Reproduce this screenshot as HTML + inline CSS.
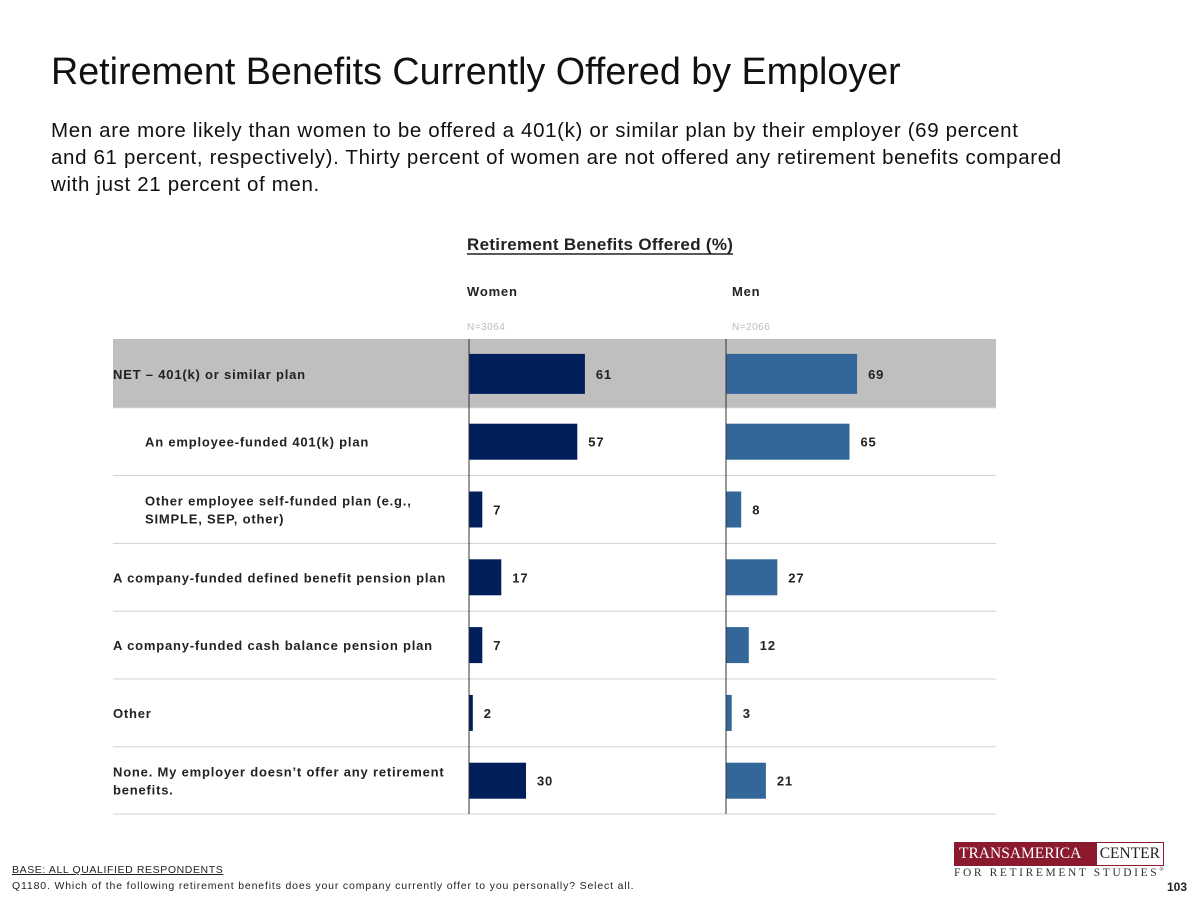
<!DOCTYPE html>
<html><head><meta charset="utf-8">
<style>
body{margin:0;width:1200px;height:900px;background:#fff;position:relative;overflow:hidden;font-family:"Liberation Sans",sans-serif;}
.abs{position:absolute;}
</style></head><body>
<div class="abs" style="left:51px;top:50px;font-size:37.7px;color:#111;">Retirement Benefits Currently Offered by Employer</div>
<div class="abs" style="left:51px;top:117px;width:1100px;font-size:20.5px;letter-spacing:0.65px;line-height:27px;color:#111;white-space:nowrap;">Men are more likely than women to be offered a 401(k) or similar plan by their employer (69 percent<br>and 61 percent, respectively). Thirty percent of women are not offered any retirement benefits compared<br>with just 21 percent of men.</div>
<svg class="abs" style="left:0;top:0" width="1200" height="900">
<g id="g"></g>
</svg>
<div class="abs" style="left:12px;top:864px;font-size:10.5px;letter-spacing:0.6px;color:#222;text-decoration:underline;">BASE: ALL QUALIFIED RESPONDENTS</div>
<div class="abs" style="left:12px;top:880px;font-size:10.5px;letter-spacing:0.84px;color:#222;">Q1180. Which of the following retirement benefits does your company currently offer to you personally? Select all.</div>
<div class="abs" style="left:954px;top:842px;width:208px;height:22px;border:1px solid #8b1a2f;background:#8b1a2f;font-family:'Liberation Serif',serif;font-size:15.5px;line-height:22px;">
<span style="color:#fff;padding-left:4px;">TRANSAMERICA</span><span style="position:absolute;right:0;top:0;height:22px;background:#fff;color:#222;padding:0 3px;line-height:22px;">CENTER</span></div>
<div class="abs" style="left:954px;top:867px;font-family:'Liberation Serif',serif;font-size:11.5px;letter-spacing:2.6px;color:#333;">FOR RETIREMENT STUDIES<sup style="font-size:6px">®</sup></div>
<div class="abs" style="left:1167px;top:880px;font-size:12px;font-weight:bold;color:#222;">103</div>
<script>
const categories=["NET – 401(k) or similar plan","An employee-funded 401(k) plan","Other employee self-funded plan (e.g.,|SIMPLE, SEP, other)","A company-funded defined benefit pension plan","A company-funded cash balance pension plan","Other","None. My employer doesn’t offer any retirement|benefits."];
const indent=[0,1,1,0,0,0,0];
const women=[61,57,7,17,7,2,30];
const men=[69,65,8,27,12,3,21];
const g=document.getElementById('g');
const NS="http://www.w3.org/2000/svg";
function mk(t,a,txt){const e=document.createElementNS(NS,t);for(const k in a)e.setAttribute(k,a[k]);if(txt!=null)e.textContent=txt;g.appendChild(e);return e;}
const top0=340,rowH=67.8,scale=1.9,wx=469,mx=726;
const F='"Liberation Sans",sans-serif';
function rowY(i){return top0+i*rowH;}
let r=mk('rect',{x:113,y:339,width:883,height:69,fill:'#bfbfbf'});

let t=mk('text',{x:467,y:250,'font-size':17,'font-weight':'bold',fill:'#222','font-family':F,'letter-spacing':0.3},'Retirement Benefits Offered (%)');

let u=mk('line',{x1:467,x2:733,y1:254,y2:254,stroke:'#222','stroke-width':1.5});

[["Women",wx-2,"N=3064"],["Men",mx+6,"N=2066"]].forEach(([n,x,nn])=>{
 let a=mk('text',{x:x,y:296,'font-size':13,'font-weight':'bold',fill:'#222','font-family':F,'letter-spacing':0.8},n);
 
 let b=mk('text',{x:x,y:330,'font-size':10,fill:'#bbb','font-family':F,'letter-spacing':0.5},nn);
 
});
categories.forEach((c,i)=>{
 const y0=rowY(i),cy=y0+rowH/2;
 if(i>0){let l=mk('line',{x1:113,x2:996,y1:y0,y2:y0,stroke:'#d0d0d0'});}
 const lines=c.split('|');
 lines.forEach((ln,k)=>{
  let tt=mk('text',{x:113+indent[i]*32,y:cy+5+(k-(lines.length-1)/2)*18,'font-size':13,'font-weight':'bold',fill:'#222','font-family':F,'letter-spacing':0.8},ln);
  
 });
 const bh=i==0?40:36;
 [[women,wx,'#001f5b','women'],[men,mx,'#336699','men']].forEach(([arr,x,col,nm])=>{
  const w=arr[i]*scale;
  let b=mk('rect',{x:x,y:cy-bh/2,width:w,height:bh,fill:col});
  
  let v=mk('text',{x:x+w+11,y:cy+5,'font-size':13,'font-weight':'bold',fill:'#222','font-family':F,'letter-spacing':0.8},arr[i]);
  
 });
});
let ll=mk('line',{x1:113,x2:996,y1:814,y2:814,stroke:'#d0d0d0'});

[wx,mx].forEach(x=>{let a=mk('line',{x1:x,x2:x,y1:339,y2:814,stroke:'#333'});});
</script>
</body></html>
